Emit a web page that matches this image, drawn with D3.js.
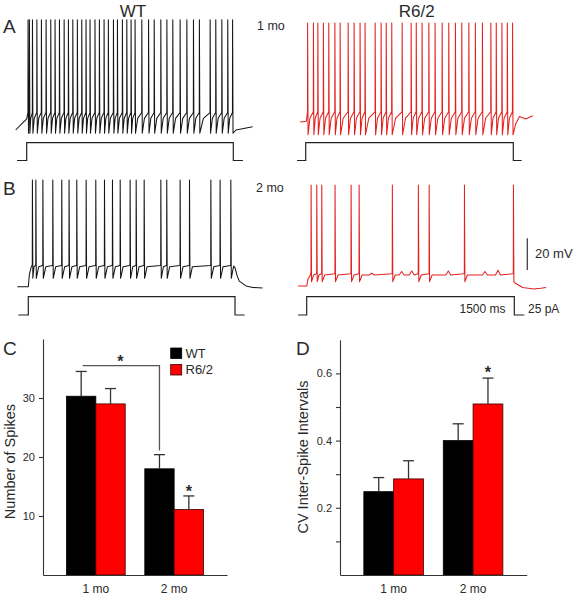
<!DOCTYPE html>
<html><head><meta charset="utf-8">
<script src="https://cdn.jsdelivr.net/npm/d3@7"></script>
<style>
body{margin:0;background:#fff}
svg text{font-family:"Liberation Sans",Arial,Helvetica,sans-serif;fill:#2a2a2a}
</style>
</head><body>
<svg id="fig" width="573" height="599"></svg>
<script>
// ================= DATA =================
const ages = ["1 mo", "2 mo"];
const genotypes = ["WT", "R6/2"];

// Panel C: number of spikes (mean, SEM)
const spikesWT = [30.3, 18.0];
const spikesWTsem = [4.2, 2.4];
const spikesR62 = [29.0, 11.1];
const spikesR62sem = [2.6, 2.3];
const spikeTicks = [10, 20, 30];

// Panel D: CV of inter-spike intervals (mean, SEM)
const cvWT = [0.248, 0.400];
const cvWTsem = [0.042, 0.050];
const cvR62 = [0.286, 0.509];
const cvR62sem = [0.054, 0.077];
const cvTicks = [0.1, 0.2, 0.3, 0.4, 0.5, 0.6];
const cvTickLabels = [0.2, 0.4, 0.6];

// Example traces: spike times (ms from onset of the 1500 ms, 25 pA step)
const spikeTimesA_WT = [9, 19, 41, 73, 106, 140, 174, 205, 237, 271, 302, 334, 367, 399, 430, 459, 495, 527, 561, 592,
  629, 658, 694, 726, 757, 786, 835, 884, 925, 973, 1017, 1060, 1113, 1162, 1210, 1253, 1331, 1372, 1416, 1459, 1494];
const spikeTimesA_R62 = [13, 55, 87, 127, 166, 210, 248, 306, 349, 392, 428, 501, 544, 581, 621, 696, 761, 798, 840,
  889, 934, 985, 1033, 1081, 1127, 1178, 1225, 1276, 1337, 1376, 1417, 1456, 1494];
const spikeTimesB_WT = [29, 54, 105, 177, 242, 295, 351, 419, 489, 552, 610, 666, 738, 782, 840, 961, 1004, 1101, 1169, 1324, 1391, 1469];
const spikeTimesB_R62 = [31, 72, 108, 204, 320, 378, 618, 806, 884, 1139, 1493];

// Membrane potential levels (mV)
const levelsA_WT = {thr: -59, trough: -72, peak: -0.5};
const levelsA_R62 = {thr: -58.5, trough: -73, peak: -2.5};
const levelsB_WT = {thr: -56, trough: -64.7, peak: -2.7, plateau: -57.4};
const levelsB_R62 = {thr: -61, trough: -66.8, peak: -5.8, plateau: -62.6};

// Before-step and after-step segments [ms, mV]
const preA_WT = [[-80, -70], [0, -63]];
const postA_WT = [[1520, -70], [1640, -68]];
const preA_R62 = [[-40, -65], [5, -64.5]];
const postA_R62 = [[1518, -66], [1545, -61.5], [1590, -63], [1640, -61]];
const preB_WT = [[-80, -70], [0, -70], [8, -62], [20, -58]];
const postB_WT = [[1490, -57], [1500, -58], [1515, -63], [1531, -66.5], [1580, -69.5], [1630, -70.5], [1700, -70.8]];
const preB_R62 = [[-62, -69.6], [0, -69.6], [10, -65], [25, -63]];
const postB_R62 = [[1510, -68], [1560, -70.5], [1640, -71.5], [1690, -71], [1730, -70.5]];
// subthreshold bumps [ms, mV above plateau]
const bumpsB_R62 = [[470, 1.2], [686, 2.2], [759, 2.5], [1023, 2.5], [1288, 2.2], [1382, 3]];

// Current step
const stepAmp = 25;      // pA
const stepDur = 1500;    // ms
const stepA_WT = [-70, 1570];
const stepA_R62 = [-62, 1560];
const stepB_WT = [-72, 1570];
const stepB_R62 = [-62, 1572];

// Scale bars
const scaleMV = 20;
const scaleMVbase = -59.5;

// ================= DRAWING =================
const svg = d3.select("#fig");
const mvPx = 1.585;
const yA = d3.scaleLinear().domain([-70, 0]).range([130, 130 - 70 * mvPx]);
const yB = d3.scaleLinear().domain([-70, 0]).range([286.7, 286.7 - 70 * mvPx]);
const iA = d3.scaleLinear().domain([0, stepAmp]).range([160.5, 142.7]);
const iB = d3.scaleLinear().domain([0, stepAmp]).range([315, 296.7]);

const xA_WT = d3.scaleLinear().domain([0, stepDur]).range([26.7, 233.3]);
const xA_R62 = d3.scaleLinear().domain([0, stepDur]).range([305.7, 513.3]);
const xB_WT = d3.scaleLinear().domain([0, stepDur]).range([28.3, 235]);
const xB_R62 = d3.scaleLinear().domain([0, stepDur]).range([306.7, 514.3]);

function buildTrace(spikes, lv, pre, post, bumps, plateauMode) {
  const pts = pre.map(p => p.slice());
  spikes.forEach((s, i) => {
    pts.push([s, lv.thr], [s + 0.8, lv.peak], [s + 4, lv.trough]);
    const next = spikes[i + 1];
    if (next !== undefined) {
      const g = next - s - 4;
      if (plateauMode) {
        pts.push([s + 4 + Math.min(18, 0.4 * g), lv.plateau]);
        pts.push([next - 2, lv.plateau + 0.8]);
      } else {
        pts.push([s + 4 + 0.35 * g, lv.trough + 0.72 * (lv.thr - lv.trough)]);
      }
    }
  });
  post.forEach(p => pts.push(p.slice()));
  (bumps || []).forEach(b => pts.push([b[0] - 18, lv.plateau], [b[0], lv.plateau + b[1]], [b[0] + 18, lv.plateau]));
  pts.sort((a, b) => a[0] - b[0]);
  return pts;
}

function drawTrace(pts, x, y, color) {
  svg.append("path")
    .attr("d", d3.line().x(d => x(d[0])).y(d => y(d[1]))(pts))
    .attr("fill", "none").attr("stroke", color).attr("stroke-width", 1.05)
    .attr("stroke-linejoin", "round");
}
function drawStep(ext, x, iy) {
  const pts = [[ext[0], 0], [0, 0], [0, stepAmp], [stepDur, stepAmp], [stepDur, 0], [ext[1], 0]];
  svg.append("path")
    .attr("d", d3.line().x(d => x(d[0])).y(d => iy(d[1]))(pts))
    .attr("fill", "none").attr("stroke", "#222").attr("stroke-width", 1.2);
}

const black = "#151515", red = "#e3201e";
drawTrace(buildTrace(spikeTimesA_WT, levelsA_WT, preA_WT, postA_WT, null, false), xA_WT, yA, black);
drawTrace(buildTrace(spikeTimesA_R62, levelsA_R62, preA_R62, postA_R62, null, false), xA_R62, yA, red);
drawTrace(buildTrace(spikeTimesB_WT, levelsB_WT, preB_WT, postB_WT, null, true), xB_WT, yB, black);
drawTrace(buildTrace(spikeTimesB_R62, levelsB_R62, preB_R62, postB_R62, bumpsB_R62, true), xB_R62, yB, red);
drawStep(stepA_WT, xA_WT, iA);
drawStep(stepA_R62, xA_R62, iA);
drawStep(stepB_WT, xB_WT, iB);
drawStep(stepB_R62, xB_R62, iB);

// scale bar
svg.append("line").attr("x1", 527.3).attr("x2", 527.3)
  .attr("y1", yB(scaleMVbase)).attr("y2", yB(scaleMVbase + scaleMV))
  .attr("stroke", "#333").attr("stroke-width", 1.2);
svg.append("text").attr("x", 535).attr("y", 258).attr("font-size", 13).text(scaleMV + " mV");
svg.append("text").attr("x", 505.5).attr("y", 312.5).attr("font-size", 12).attr("text-anchor", "end").text(stepDur + " ms");
svg.append("text").attr("x", 528).attr("y", 312.5).attr("font-size", 12).text(stepAmp + " pA");

// titles / labels
svg.append("text").attr("x", 133).attr("y", 17).attr("font-size", 17).attr("text-anchor", "middle").text("WT");
svg.append("text").attr("x", 416.7).attr("y", 17).attr("font-size", 17).attr("text-anchor", "middle").text("R6/2");
svg.append("text").attr("x", 257).attr("y", 30).attr("font-size", 12.5).text("1 mo");
svg.append("text").attr("x", 256).attr("y", 191.5).attr("font-size", 12.5).text("2 mo");
[["A", 3, 33], ["B", 3, 195], ["C", 3, 355], ["D", 296, 355]].forEach(p =>
  svg.append("text").attr("x", p[1]).attr("y", p[2]).attr("font-size", 19).text(p[0]));

// ---- bar panels ----
function barPanel(opt) {
  const g = svg.append("g");
  const x = d3.scaleBand().domain(ages).range(opt.xr).paddingInner(0.25).paddingOuter(0.3);
  const xs = d3.scaleBand().domain(genotypes).range([0, x.bandwidth()]);
  const y = d3.scaleLinear().domain(opt.yd).range(opt.yr);
  const rows = [];
  ages.forEach((a, i) => {
    rows.push({age: a, gt: "WT", m: opt.wt[i], s: opt.wtS[i]});
    rows.push({age: a, gt: "R6/2", m: opt.r[i], s: opt.rS[i]});
  });
  g.selectAll("rect.bar").data(rows).join("rect")
    .attr("x", d => x(d.age) + xs(d.gt)).attr("width", xs.bandwidth())
    .attr("y", d => y(d.m)).attr("height", d => y(0) - y(d.m))
    .attr("fill", d => d.gt === "WT" ? "#000" : "#ff0000")
    .attr("stroke", d => d.gt === "WT" ? "#000" : "#3a0000").attr("stroke-width", 0.8);
  const cx = d => x(d.age) + xs(d.gt) + xs.bandwidth() / 2;
  g.selectAll("line.eb").data(rows).join("line")
    .attr("x1", cx).attr("x2", cx).attr("y1", d => y(d.m)).attr("y2", d => y(d.m + d.s))
    .attr("stroke", "#333").attr("stroke-width", 1.3);
  g.selectAll("line.cap").data(rows).join("line")
    .attr("x1", d => cx(d) - 5.5).attr("x2", d => cx(d) + 5.5)
    .attr("y1", d => y(d.m + d.s)).attr("y2", d => y(d.m + d.s))
    .attr("stroke", "#333").attr("stroke-width", 1.3);
  // axes
  const ya = d3.axisLeft(y).tickValues(opt.ticks).tickSize(4).tickSizeOuter(0).tickPadding(4)
    .tickFormat(v => opt.labels.includes(v) ? opt.fmt(v) : "");
  const yg = g.append("g").attr("transform", `translate(${opt.xr[0]},0)`).call(ya);
  yg.selectAll("text").attr("font-size", 11).style("font-family", "'Liberation Sans',Arial,sans-serif").attr("fill", "#2a2a2a");
  yg.selectAll("line,path").attr("stroke", "#333").attr("stroke-width", 1.1);
  const xa = d3.axisBottom(x).tickSize(0).tickSizeOuter(0).tickPadding(9);
  const xg = g.append("g").attr("transform", `translate(0,${opt.yr[0]})`).call(xa);
  xg.selectAll("text").attr("font-size", 12).style("font-family", "'Liberation Sans',Arial,sans-serif").attr("fill", "#2a2a2a");
  xg.select("path").attr("stroke", "#333").attr("stroke-width", 1.1);
  // y title
  g.append("text").attr("transform", `translate(${opt.titleX},${opt.titleY}) rotate(-90)`)
    .attr("text-anchor", "middle").attr("font-size", 14.5).text(opt.title);
  return {x, xs, y, g, cx};
}

const C = barPanel({xr: [43, 227], yd: [0, 40], yr: [575, 339], wt: spikesWT, wtS: spikesWTsem, r: spikesR62, rS: spikesR62sem,
  ticks: spikeTicks, labels: spikeTicks, fmt: d3.format("d"), title: "Number of Spikes", titleX: 15, titleY: 461.5});
const D = barPanel({xr: [340, 526.7], yd: [0, 0.7], yr: [575, 339.8], wt: cvWT, wtS: cvWTsem, r: cvR62, rS: cvR62sem,
  ticks: cvTicks, labels: cvTickLabels, fmt: d3.format(".1f"), title: "CV Inter-Spike Intervals", titleX: 307.5, titleY: 457});

// significance bracket in C (WT 1 mo vs WT 2 mo)
const bx1 = C.cx({age: "1 mo", gt: "WT"}), bx2 = C.cx({age: "2 mo", gt: "WT"});
const bLevel = 35.5, bLow = spikesWT[1] + spikesWTsem[1] + 0.7;
C.g.append("path")
  .attr("d", `M${bx1 + 1.5},${C.y(bLevel)}H${bx2}V${C.y(bLow)}`)
  .attr("fill", "none").attr("stroke", "#555").attr("stroke-width", 1.3);
C.g.append("text").attr("x", (bx1 + bx2) / 2).attr("y", C.y(bLevel) + 1).attr("text-anchor", "middle")
  .attr("font-size", 16).attr("font-weight", "bold").text("*");
// stars
C.g.append("text").attr("x", C.cx({age: "2 mo", gt: "R6/2"})).attr("y", C.y(spikesR62[1] + spikesR62sem[1]) + 1)
  .attr("text-anchor", "middle").attr("font-size", 16).attr("font-weight", "bold").text("*");
D.g.append("text").attr("x", D.cx({age: "2 mo", gt: "R6/2"})).attr("y", D.y(cvR62[1] + cvR62sem[1]) + 0)
  .attr("text-anchor", "middle").attr("font-size", 16).attr("font-weight", "bold").text("*");

// legend in C
const leg = svg.append("g");
genotypes.forEach((gname, i) => {
  leg.append("rect").attr("x", 170.7).attr("y", 348 + i * 16.5).attr("width", 11).attr("height", 10.5)
    .attr("fill", i === 0 ? "#000" : "#ff0000").attr("stroke", i === 0 ? "#000" : "#3a0000").attr("stroke-width", 0.8);
  leg.append("text").attr("x", 185.5).attr("y", 358.3 + i * 16).attr("font-size", 13).text(gname);
});
</script>
</body></html>
